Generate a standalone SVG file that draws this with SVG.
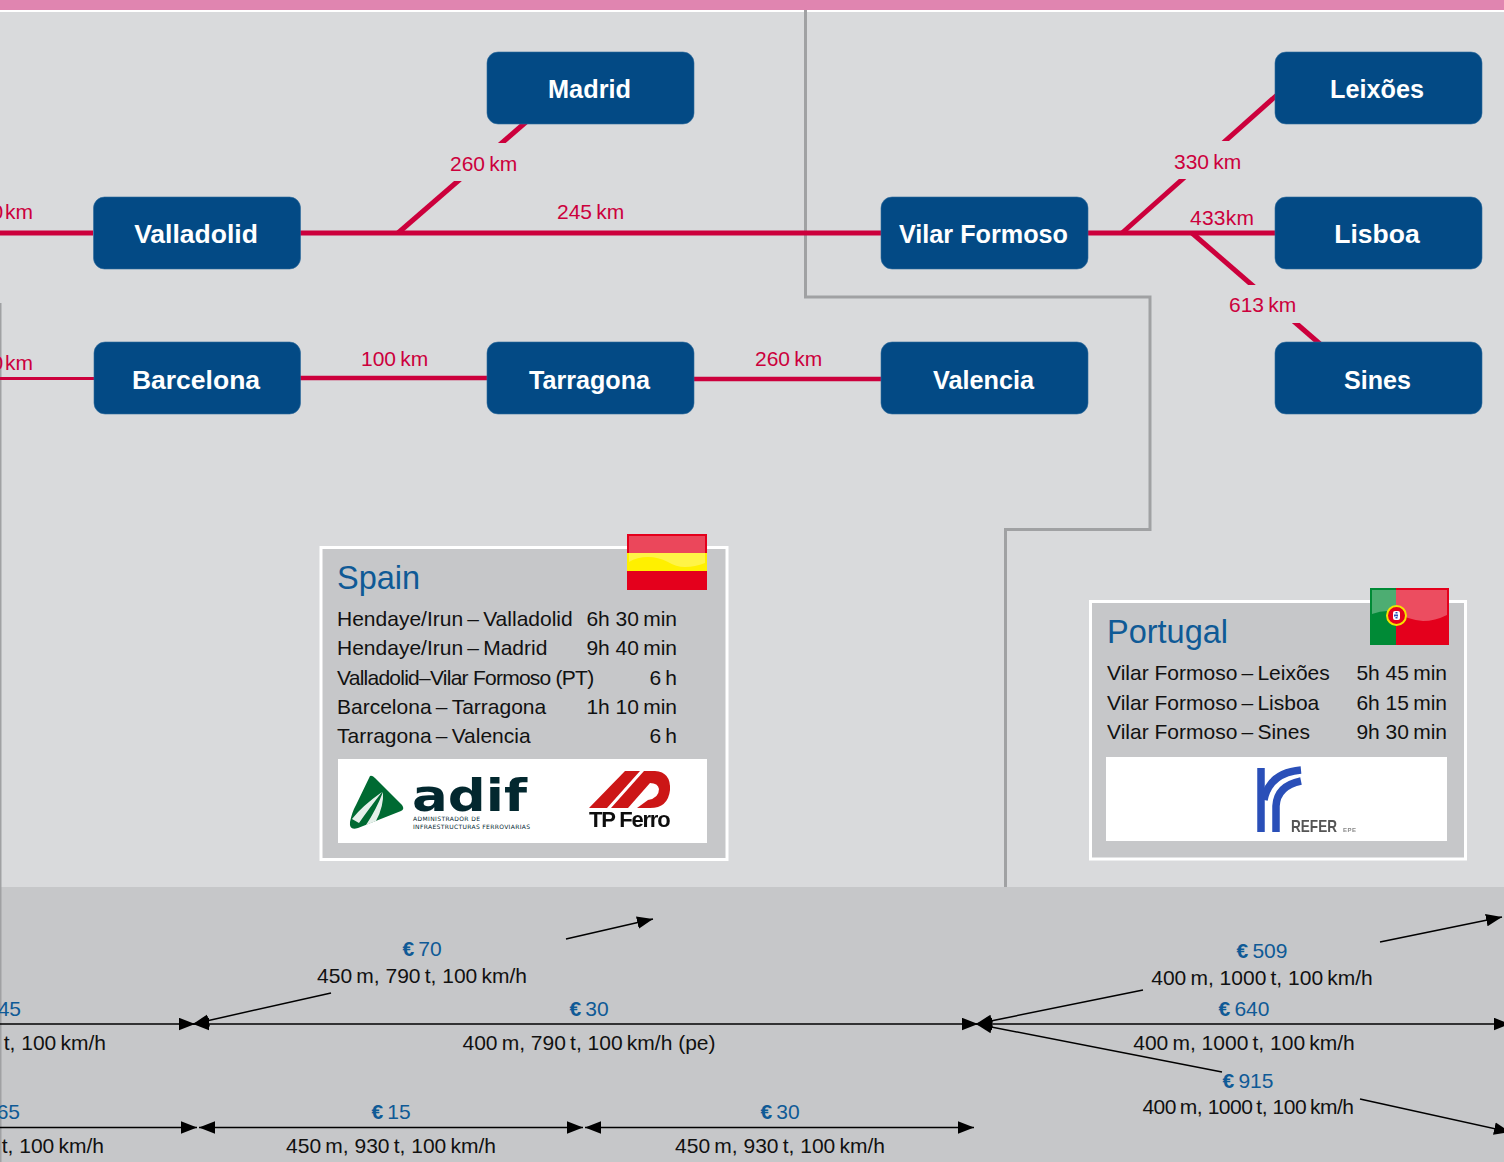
<svg xmlns="http://www.w3.org/2000/svg" width="1504" height="1162" viewBox="0 0 1504 1162">
<style>
text{font-family:"Liberation Sans",Arial,sans-serif}
.node rect{fill:#034a85;stroke:#2e6a9c;stroke-width:.6}
.node text{fill:#fff;font-weight:700;font-size:26.5px;text-anchor:middle}
.rail{stroke:#cc003c;stroke-width:5;fill:none}
.km{fill:#cc003c;font-size:21px}
.gap{fill:#d9dadc}
.fr{stroke:#a0a1a3;stroke-width:3;fill:none}
.ar{stroke:#000;stroke-width:1.5;fill:none}
.both{marker-start:url(#h);marker-end:url(#h)}
.one{marker-end:url(#h)}
.p{fill:#0f5a96;font-size:21px;text-anchor:middle}
.p tspan{font-weight:700}
.d{fill:#111;font-size:21px;text-anchor:middle}
.panel{fill:#c6c7c9;stroke:#fff;stroke-width:3}
.title{fill:#0f5a96;font-size:32.500px}
.row{fill:#111;font-size:21px}
</style>
<defs>
<marker id="h" markerUnits="userSpaceOnUse" markerWidth="18" markerHeight="14" refX="16" refY="6.500" orient="auto-start-reverse" viewBox="0 0 18 14"><path d="M0,0.250 L16,6.500 L0,12.750 Z" fill="#000"/></marker>
<filter id="soft" x="-5%" y="-5%" width="110%" height="110%"><feGaussianBlur stdDeviation=".45"/></filter>
</defs>
<rect width="1504" height="1162" fill="#d9dadc"/>
<rect width="1504" height="10" fill="#e085b0"/>
<rect y="10" width="1504" height="2" fill="#fff"/>
<rect y="887" width="1504" height="275" fill="#c6c7c9"/>

<g id="borders">
<path class="fr" d="M805.500,10 V297 H1150 V529.500 H1005.500 V887"/>
<path class="fr" d="M0,303 V1162"/>
</g>

<g id="connectors">
<path class="rail" d="M0,233 H93"/>
<path class="rail" d="M300,233 H881"/>
<path class="rail" d="M1088,233 H1275"/>
<path class="rail" d="M398,233 L526,122"/>
<path class="rail" d="M1122,233 L1277,95"/>
<path class="rail" d="M1192,233 L1320,344"/>
<path class="rail" style="stroke-width:3" d="M0,378.500 H94"/>
<path class="rail" style="stroke-width:4.500" d="M300,378 H487"/>
<path class="rail" style="stroke-width:4.500" d="M694,379 H881"/>
<rect class="gap" x="440" y="143" width="90" height="38"/>
<rect class="gap" x="1160" y="141" width="90" height="38"/>
<rect class="gap" x="1220" y="285" width="90" height="38"/>
<path class="ar one" d="M0,1024 H195"/>
<path class="ar both" d="M193,1024 H978"/>
<path class="ar one" d="M0,1127.500 H197"/>
<path class="ar both" d="M199,1127.500 H583"/>
<path class="ar both" d="M585,1127.500 H974"/>
<path class="ar one" d="M331,993 L193,1024"/>
<path class="ar one" d="M566,939 L653,919"/>
<path class="ar one" d="M1143,990 L976,1024"/>
<path class="ar one" d="M1380,942 L1502,917"/>
<path class="ar both" d="M976,1024 H1510"/>
<path class="ar one" d="M1222,1072 L976,1024"/>
<path class="ar one" d="M1360,1099 L1510,1132"/>
</g>

<g id="km-labels">
<text class="km" x="33" y="219" text-anchor="end">0&#8202;km</text>
<text class="km" x="33" y="370" text-anchor="end">0&#8202;km</text>
<text class="km" x="450" y="171">260&#8201;km</text>
<text class="km" x="557" y="219">245&#8201;km</text>
<text class="km" x="361" y="366">100&#8201;km</text>
<text class="km" x="755" y="366">260&#8201;km</text>
<text class="km" x="1174" y="169">330&#8201;km</text>
<text class="km" x="1190" y="225" textLength="64">433km</text>
<text class="km" x="1229" y="312">613&#8201;km</text>
</g>

<g id="madrid" class="node"><rect x="487" y="52" width="207" height="72" rx="11"/><text x="548" y="98" style="text-anchor:start" textLength="83" lengthAdjust="spacingAndGlyphs">Madrid</text></g>
<g id="valladolid" class="node"><rect x="93.500" y="197" width="207" height="72" rx="11"/><text x="196" y="243">Valladolid</text></g>
<g id="barcelona" class="node"><rect x="94" y="342" width="206.500" height="72" rx="11"/><text x="196" y="389">Barcelona</text></g>
<g id="tarragona" class="node"><rect x="487" y="342" width="207" height="72" rx="11"/><text x="529" y="389" style="text-anchor:start" textLength="121" lengthAdjust="spacingAndGlyphs">Tarragona</text></g>
<g id="valencia" class="node"><rect x="881" y="342" width="207" height="72" rx="11"/><text x="933" y="389" style="text-anchor:start" textLength="101" lengthAdjust="spacingAndGlyphs">Valencia</text></g>
<g id="vilar-formoso" class="node"><rect x="881" y="197" width="207" height="72" rx="11"/><text x="899" y="243" style="text-anchor:start" textLength="169" lengthAdjust="spacingAndGlyphs">Vilar Formoso</text></g>
<g id="leixoes" class="node"><rect x="1275" y="52" width="207" height="72" rx="11"/><text x="1330" y="98" style="text-anchor:start" textLength="94" lengthAdjust="spacingAndGlyphs">Leixões</text></g>
<g id="lisboa" class="node"><rect x="1275" y="197" width="207" height="72" rx="11"/><text x="1377" y="243">Lisboa</text></g>
<g id="sines" class="node"><rect x="1275" y="342" width="207" height="72" rx="11"/><text x="1344" y="389" style="text-anchor:start" textLength="67" lengthAdjust="spacingAndGlyphs">Sines</text></g>

<g id="spain-panel">
<rect class="panel" x="321" y="547.500" width="406" height="312"/>
<text class="title" x="337" y="589">Spain</text>
<text class="row" x="337" y="626">Hendaye/Irun&#8201;–&#8201;Valladolid</text>
<text class="row" x="337" y="655">Hendaye/Irun&#8201;–&#8201;Madrid</text>
<text class="row" x="337" y="685" letter-spacing="-.75">Valladolid–Vilar Formoso (PT)</text>
<text class="row" x="337" y="714">Barcelona&#8201;–&#8201;Tarragona</text>
<text class="row" x="337" y="743">Tarragona&#8201;–&#8201;Valencia</text>
<text class="row" x="677" y="626" text-anchor="end">6h 30&#8201;min</text>
<text class="row" x="677" y="655" text-anchor="end">9h 40&#8201;min</text>
<text class="row" x="677" y="685" text-anchor="end">6&#8201;h</text>
<text class="row" x="677" y="714" text-anchor="end">1h 10&#8201;min</text>
<text class="row" x="677" y="743" text-anchor="end">6&#8201;h</text>
<rect x="338" y="759" width="369" height="84" fill="#fff"/>
<g filter="url(#soft)">
<path d="M370,776 Q372,775 375,778 L402,805 Q405,809 401,811 L358,828 Q349,831 350,822 Q352,812 356,805 Z" fill="#006a33"/>
<path d="M352,819 Q362,806 382,792 Q368,810 359,823 Z M366,825 Q376,810 383,792 Q384,806 376,821 Z" fill="#fff" opacity=".9"/>
</g>
<text x="412" y="811" font-size="44" font-weight="700" fill="#03282f" textLength="115" lengthAdjust="spacingAndGlyphs" style="font-family:'DejaVu Sans',sans-serif">adif</text>
<text x="413" y="821" font-size="6" fill="#03282f" textLength="67" lengthAdjust="spacing" style="font-family:'DejaVu Sans',sans-serif">ADMINISTRADOR DE</text>
<text x="413" y="829" font-size="6" fill="#03282f" textLength="117" lengthAdjust="spacing" style="font-family:'DejaVu Sans',sans-serif">INFRAESTRUCTURAS FERROVIARIAS</text>
<g filter="url(#soft)">
<path d="M589,808 L625,771 L640,771 L607,808 Z M611,808 L644,771 L655,771 Q671,772 670,790 Q668,808 650,808 L637,808 L648,800 Q659,798 659,789 Q658,783 650,783 L628,808 Z" fill="#cc1719"/>
<text x="589" y="827" font-size="22" font-weight="700" fill="#111" letter-spacing="-1.200">TP Ferro</text>
</g>
<rect x="627" y="534" width="80" height="19" fill="#e4001c"/>
<rect x="627" y="553" width="80" height="18" fill="#fff000"/>
<rect x="627" y="571" width="80" height="19" fill="#e4001c"/>
<path d="M629,536 H705 V563 Q695,567 685,567 Q676,567 668,562 Q658,557 648,557 Q637,557 629,562 Z" fill="#fff" opacity=".28"/>
</g>

<g id="portugal-panel">
<rect class="panel" x="1090.500" y="601.500" width="375" height="257.500"/>
<text class="title" x="1107" y="643">Portugal</text>
<text class="row" x="1107" y="680">Vilar Formoso&#8201;–&#8201;Leixões</text>
<text class="row" x="1107" y="710">Vilar Formoso&#8201;–&#8201;Lisboa</text>
<text class="row" x="1107" y="739">Vilar Formoso&#8201;–&#8201;Sines</text>
<text class="row" x="1447" y="680" text-anchor="end">5h 45&#8201;min</text>
<text class="row" x="1447" y="710" text-anchor="end">6h 15&#8201;min</text>
<text class="row" x="1447" y="739" text-anchor="end">9h 30&#8201;min</text>
<rect x="1106" y="757" width="341" height="84" fill="#fff"/>
<g filter="url(#soft)">
<g fill="none" stroke="#2a50b8" stroke-width="7.500">
<path d="M1261,832 V768"/>
<path d="M1276,832 V806 Q1277,786 1301,781"/>
<path d="M1264,800 Q1269,773 1301,770"/>
</g>
<text x="1291" y="832" font-size="17" font-weight="700" fill="#555" textLength="46" lengthAdjust="spacingAndGlyphs">REFER</text>
<text x="1343" y="832" font-size="6" font-weight="700" fill="#888" textLength="13">EPE</text>
</g>
<rect x="1370" y="588" width="26" height="57" fill="#008a36"/>
<rect x="1396" y="588" width="53" height="57" fill="#e4001c"/>
<path d="M1372,590 H1447 V615 Q1435,621 1423,621 Q1408,620 1396,612 Q1385,609 1372,614 Z" fill="#fff" opacity=".3"/>
<circle cx="1396.500" cy="615.500" r="9.500" fill="#e4001c" stroke="#f5e400" stroke-width="2"/>
<rect x="1393" y="611" width="7" height="9" rx="2" fill="#fff"/>
<path d="M1396.500,612 V619 M1394,615.500 H1399" stroke="#2a50b8" stroke-width="2" stroke-dasharray="1.500 1"/>
</g>

<g id="bottom-labels">
<text class="p" x="422" y="956"><tspan>€</tspan>&#8201;70</text>
<text class="d" x="422" y="983">450&#8201;m, 790&#8201;t, 100&#8201;km/h</text>
<text class="p" x="21" y="1016" style="text-anchor:end">45</text>
<text class="d" x="106" y="1050" style="text-anchor:end">t, 100&#8201;km/h</text>
<text class="p" x="589" y="1016"><tspan>€</tspan>&#8201;30</text>
<text class="d" x="589" y="1050">400&#8201;m, 790&#8201;t, 100&#8201;km/h (pe)</text>
<text class="p" x="20" y="1119" style="text-anchor:end">65</text>
<text class="d" x="104" y="1153" style="text-anchor:end">t, 100&#8201;km/h</text>
<text class="p" x="391" y="1119"><tspan>€</tspan>&#8201;15</text>
<text class="d" x="391" y="1153">450&#8201;m, 930&#8201;t, 100&#8201;km/h</text>
<text class="p" x="780" y="1119"><tspan>€</tspan>&#8201;30</text>
<text class="d" x="780" y="1153">450&#8201;m, 930&#8201;t, 100&#8201;km/h</text>
<text class="p" x="1262" y="958"><tspan>€</tspan>&#8201;509</text>
<text class="d" x="1262" y="985">400&#8201;m, 1000&#8201;t, 100&#8201;km/h</text>
<text class="p" x="1244" y="1016"><tspan>€</tspan>&#8201;640</text>
<text class="d" x="1244" y="1050">400&#8201;m, 1000&#8201;t, 100&#8201;km/h</text>
<text class="p" x="1248" y="1088"><tspan>€</tspan>&#8201;915</text>
<text class="d" x="1248" y="1114" letter-spacing="-.45">400&#8201;m, 1000&#8201;t, 100&#8201;km/h</text>
</g>
</svg>
